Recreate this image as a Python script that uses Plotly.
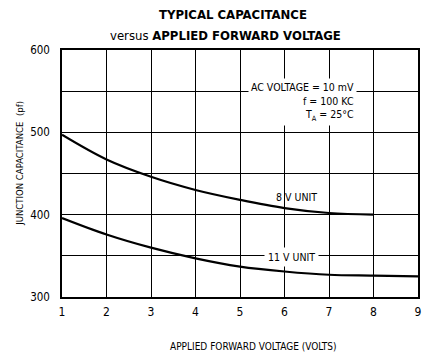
import plotly.graph_objects as go

voltage_8v = [1, 2, 3, 4, 5, 6, 7, 8]
cap_8v = [497, 467, 446, 430, 418, 408, 402, 400]
voltage_11v = [1, 2, 3, 4, 5, 6, 7, 8, 9]
cap_11v = [396, 376, 360, 347, 337, 331, 327, 326, 325]
x_ticks = [1, 2, 3, 4, 5, 6, 7, 8, 9]
y_ticks = [300, 400, 500, 600]

FONT = "DejaVu Sans Condensed, Liberation Sans Narrow, sans-serif"

fig = go.Figure()
fig.add_trace(go.Scatter(x=voltage_8v, y=cap_8v, mode="lines",
                         line=dict(color="black", width=2.2, shape="spline"), name="8 V UNIT"))
fig.add_trace(go.Scatter(x=voltage_11v, y=cap_11v, mode="lines",
                         line=dict(color="black", width=2.2, shape="spline"), name="11 V UNIT"))

fig.update_layout(
    width=427, height=360,
    margin=dict(l=62, r=9, t=50, b=63, autoexpand=False),
    paper_bgcolor="white", plot_bgcolor="white",
    showlegend=False,
    font=dict(family=FONT, color="black", size=12),
    xaxis=dict(
        range=[1, 9], tickvals=x_ticks, ticktext=[str(v) for v in x_ticks],
        showgrid=True, gridcolor="black", gridwidth=1,
        showline=True, linecolor="black", linewidth=1.5, mirror=True,
        zeroline=False, ticks="", ticklabelstandoff=3,
        tickfont=dict(family=FONT, size=12),
    ),
    yaxis=dict(
        range=[300, 600], tickvals=y_ticks, ticktext=[str(v) for v in y_ticks],
        showgrid=True, gridcolor="black", gridwidth=1,
        minor=dict(dtick=50, tick0=300, showgrid=True, gridcolor="black", gridwidth=1, ticks=""),
        showline=True, linecolor="black", linewidth=1.5, mirror=True,
        zeroline=False, ticks="", ticklabelstandoff=8,
        tickfont=dict(family=FONT, size=11.5),
    ),
)

ANCH = dict(xanchor="center", yanchor="middle", showarrow=False)

# titles
fig.add_annotation(xref="paper", yref="paper", x=0.48, y=1.142, text="<b>TYPICAL CAPACITANCE</b>",
                   font=dict(family=FONT, size=13, color="black"), **ANCH)
fig.add_annotation(xref="paper", yref="paper", x=0.46, y=1.057,
                   text="versus <b>APPLIED FORWARD VOLTAGE</b>",
                   font=dict(family=FONT, size=13, color="black"), **ANCH)
fig.add_annotation(xref="paper", yref="paper", x=0.537, y=-0.202,
                   text="APPLIED FORWARD VOLTAGE (VOLTS)",
                   font=dict(family=FONT, size=10, color="black"), **ANCH)
fig.add_annotation(xref="paper", yref="paper", x=-0.118, y=0.543, textangle=-90,
                   text="JUNCTION CAPACITANCE  (pf)",
                   font=dict(family=FONT, size=9.5, color="black"), **ANCH)

# in-plot labels
fig.add_annotation(x=6.26, y=421, text="8 V UNIT",
                   font=dict(family=FONT, size=10.5, color="black"), **ANCH)
fig.add_annotation(x=6.15, y=349, text="11 V UNIT", borderpad=3,
                   font=dict(family=FONT, size=10.5, color="black"), bgcolor="white", **ANCH)
fig.add_annotation(x=7.63, xanchor="right", y=566, yanchor="top",
                   text="AC VOLTAGE = 10 mV<br>f = 100 KC<br>T<sub>A</sub> = 25°C",
                   showarrow=False, align="right", borderpad=2,
                   font=dict(family=FONT, size=10.5, color="black"), bgcolor="white")

# remove the browser's default 8px body margin so the figure sits at the page origin
fig.write_html("out.html", config={"displayModeBar": False},
               post_script="document.body.style.margin='0';document.body.style.overflow='hidden';")
